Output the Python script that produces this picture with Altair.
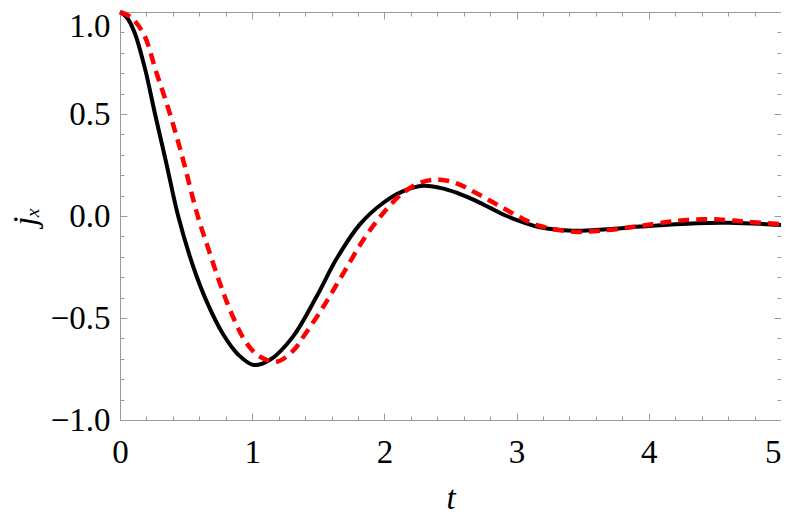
import altair as alt
import pandas as pd

# --- data ---
black_t = [0.0, 0.05, 0.11, 0.19, 0.265, 0.35, 0.44, 0.555, 0.656, 0.78, 0.895, 1.01, 1.135,
           1.31, 1.487, 1.638, 1.816, 1.992, 2.143, 2.295, 2.42, 2.55, 2.672, 2.8, 2.925, 3.177,
           3.429, 3.681, 3.933, 4.36, 4.61, 4.97, 5.0]
black_v = [1.0, 0.975, 0.90, 0.72, 0.50, 0.26, 0.0, -0.25, -0.42, -0.58, -0.68, -0.73, -0.705,
           -0.59, -0.395, -0.21, -0.04, 0.065, 0.122, 0.148, 0.138, 0.113, 0.08, 0.04, 0.0, -0.055,
           -0.072, -0.065, -0.052, -0.035, -0.033, -0.043, -0.044]

red_t = [0.0, 0.08, 0.176, 0.277, 0.378, 0.467, 0.588, 0.668, 0.756, 0.845, 0.958, 1.06, 1.185,
         1.31, 1.387, 1.538, 1.689, 1.84, 1.992, 2.143, 2.28, 2.42, 2.547, 2.672, 2.8, 2.925,
         3.05, 3.177, 3.429, 3.681, 3.933, 4.15, 4.31, 4.46, 4.6, 4.74, 5.0]
red_v = [1.0, 0.975, 0.896, 0.70, 0.50, 0.30, 0.0, -0.16, -0.33, -0.48, -0.624, -0.69, -0.714,
         -0.66, -0.592, -0.445, -0.281, -0.118, 0.015, 0.115, 0.165, 0.178, 0.16, 0.12, 0.075,
         0.029, -0.015, -0.049, -0.077, -0.069, -0.049, -0.028, -0.018, -0.016, -0.02, -0.028,
         -0.04]

x_major = [0, 1, 2, 3, 4, 5]
x_minor = [round(i * 0.2, 1) for i in range(26)]
y_major = [-1.0, -0.5, 0.0, 0.5, 1.0]
y_minor = [round(-1 + i * 0.1, 1) for i in range(21)]

black_df = pd.DataFrame({"t": black_t, "v": black_v})
red_df = pd.DataFrame({"t": red_t, "v": red_v})

FONT = "Liberation Serif"
FS = 33
GRAY = "#9a9a9a"

xs = alt.Scale(domain=[0, 5], nice=False, zero=False)
ys = alt.Scale(domain=[-1, 1], nice=False, zero=False)


def tick_axis(orient, values, size, labels=False, **kw):
    return alt.Axis(orient=orient, values=values, tickSize=size, offset=-size,
                    domain=False, grid=False, labels=labels, tickColor=GRAY,
                    tickWidth=1, labelFlush=False, labelOverlap=False, **kw)


ax_bottom = tick_axis("bottom", x_major, 7, labels=True, format="d",
                      labelFont=FONT, labelFontSize=FS, labelColor="black", labelPadding=16,
                      labelAlign={"condition": {"test": "datum.value == 5", "value": "right"},
                                  "value": "center"},
                      title="t", titleFont=FONT, titleFontSize=FS, titleFontStyle="italic",
                      titleFontWeight="normal", titleColor="black", titlePadding=13)
ax_left = tick_axis("left", y_major, 7, labels=True, format=".1f",
                    labelFont=FONT, labelFontSize=FS, labelColor="black", labelPadding=10,
                    labelOffset={"condition": {"test": "datum.value == 1", "value": 14}, "value": 0},
                    title="jₓ", titleFont=FONT, titleFontSize=FS, titleFontStyle="italic",
                    titleFontWeight="normal", titleColor="black", titlePadding=8)

black = alt.Chart(black_df).mark_line(color="black", strokeWidth=4, interpolate="catmull-rom").encode(
    x=alt.X("t:Q", scale=xs, axis=ax_bottom),
    y=alt.Y("v:Q", scale=ys, axis=ax_left),
)

red = alt.Chart(red_df).mark_line(color="#ff0000", strokeWidth=4.5, strokeDash=[11, 7],
                                  interpolate="catmull-rom").encode(
    x=alt.X("t:Q", scale=xs, axis=tick_axis("bottom", x_minor, 4, title=None)),
    y=alt.Y("v:Q", scale=ys, axis=tick_axis("left", y_minor, 4, title=None)),
)

top_right_major = alt.Chart(black_df).mark_line(opacity=0).encode(
    x=alt.X("t:Q", scale=xs, axis=tick_axis("top", x_major, 7, title=None)),
    y=alt.Y("v:Q", scale=ys, axis=tick_axis("right", y_major, 7, title=None)),
)

top_right_minor = alt.Chart(black_df).mark_line(opacity=0).encode(
    x=alt.X("t:Q", scale=xs, axis=tick_axis("top", x_minor, 4, title=None)),
    y=alt.Y("v:Q", scale=ys, axis=tick_axis("right", y_minor, 4, title=None)),
)

chart = alt.layer(black, red, top_right_major, top_right_minor).resolve_scale(
    x="independent", y="independent"
).properties(
    width=661, height=408,
    autosize=alt.AutoSizeParams(type="none"),
    padding={"left": 112, "top": 4, "right": 0, "bottom": 95},
    background="white",
).configure_view(stroke=GRAY, strokeWidth=1)

chart.save("out.html", embed_options={"renderer": "svg", "actions": False})
